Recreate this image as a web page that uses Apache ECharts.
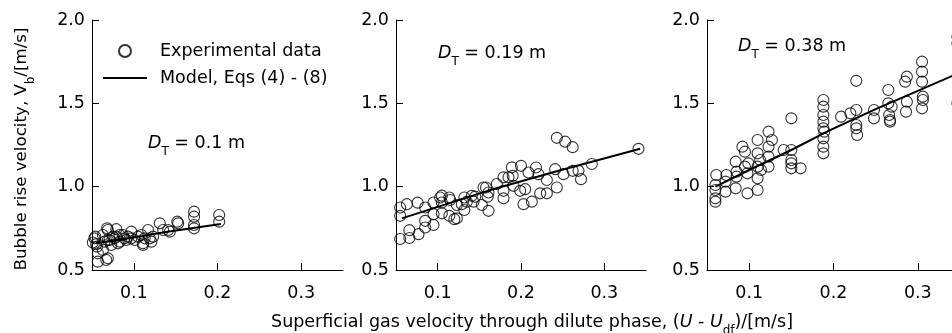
<!DOCTYPE html>
<html><head><meta charset="utf-8">
<script src="https://cdn.jsdelivr.net/npm/echarts@6/dist/echarts.min.js"></script>
<style>html,body{margin:0;padding:0;background:#fff}#c{width:952px;height:333px}</style>
</head><body><div id="c"></div>
<script>
// ---- data ----
const xTicks = [0.1, 0.2, 0.3];
const yTicks = [0.5, 1.0, 1.5, 2.0];
const panelLabels = ['0.1 m', '0.19 m', '0.38 m'];
const exp1 = [[0.051,0.665],[0.053,0.69],[0.054,0.70],[0.055,0.655],[0.056,0.64],[0.057,0.60],[0.057,0.55],[0.063,0.62],[0.063,0.71],[0.065,0.67],[0.067,0.56],[0.068,0.75],[0.069,0.74],[0.069,0.68],[0.069,0.57],[0.071,0.68],[0.073,0.65],[0.075,0.70],[0.077,0.69],[0.079,0.745],[0.079,0.70],[0.081,0.66],[0.083,0.71],[0.083,0.67],[0.087,0.71],[0.089,0.69],[0.091,0.68],[0.093,0.70],[0.097,0.73],[0.097,0.69],[0.101,0.68],[0.105,0.70],[0.109,0.71],[0.111,0.66],[0.111,0.65],[0.113,0.69],[0.117,0.74],[0.119,0.69],[0.121,0.67],[0.123,0.70],[0.131,0.78],[0.135,0.74],[0.141,0.74],[0.143,0.73],[0.152,0.79],[0.153,0.78],[0.172,0.85],[0.172,0.82],[0.172,0.77],[0.172,0.75],[0.202,0.83],[0.202,0.79]];
const model1 = [[0.055,0.66],[0.105,0.70],[0.14,0.73],[0.204,0.776]];
const exp2 = [[0.055,0.875],[0.055,0.825],[0.055,0.686],[0.063,0.895],[0.066,0.739],[0.066,0.692],[0.076,0.904],[0.077,0.715],[0.085,0.875],[0.085,0.795],[0.085,0.755],[0.095,0.905],[0.095,0.835],[0.095,0.77],[0.103,0.935],[0.105,0.946],[0.105,0.905],[0.105,0.84],[0.114,0.935],[0.115,0.92],[0.114,0.825],[0.12,0.805],[0.123,0.89],[0.123,0.81],[0.129,0.895],[0.132,0.935],[0.132,0.86],[0.135,0.91],[0.141,0.945],[0.143,0.91],[0.145,0.94],[0.153,0.89],[0.155,0.995],[0.158,0.995],[0.16,0.94],[0.161,0.965],[0.161,0.855],[0.171,1.016],[0.179,1.056],[0.179,0.975],[0.179,0.93],[0.185,1.056],[0.189,1.116],[0.19,1.065],[0.191,1.005],[0.199,0.975],[0.2,1.125],[0.203,0.895],[0.205,0.985],[0.209,1.085],[0.213,0.91],[0.218,1.115],[0.221,1.075],[0.223,0.96],[0.231,1.04],[0.231,0.96],[0.241,1.105],[0.243,1.293],[0.243,0.995],[0.253,1.27],[0.251,1.075],[0.262,1.237],[0.262,1.095],[0.269,1.095],[0.272,1.045],[0.285,1.136],[0.341,1.227]];
const model2 = [[0.057,0.81],[0.16,0.975],[0.245,1.096],[0.343,1.228]];
const exp3 = [[0.06,0.91],[0.06,0.93],[0.06,0.98],[0.06,1.01],[0.061,1.07],[0.072,1.03],[0.073,1.07],[0.072,0.97],[0.084,0.99],[0.084,1.15],[0.085,1.06],[0.085,1.09],[0.092,1.24],[0.095,1.21],[0.095,1.12],[0.098,0.96],[0.098,1.08],[0.099,1.14],[0.11,1.28],[0.11,1.2],[0.11,1.12],[0.11,1.05],[0.11,0.98],[0.113,1.16],[0.114,1.1],[0.123,1.33],[0.123,1.24],[0.123,1.18],[0.123,1.12],[0.127,1.28],[0.141,1.22],[0.15,1.41],[0.15,1.22],[0.15,1.16],[0.15,1.14],[0.15,1.11],[0.161,1.11],[0.188,1.52],[0.188,1.48],[0.188,1.43],[0.188,1.39],[0.188,1.35],[0.189,1.33],[0.188,1.29],[0.188,1.24],[0.188,1.2],[0.209,1.42],[0.22,1.44],[0.227,1.635],[0.227,1.46],[0.227,1.37],[0.227,1.35],[0.228,1.31],[0.248,1.46],[0.248,1.41],[0.265,1.58],[0.265,1.5],[0.266,1.43],[0.267,1.4],[0.267,1.39],[0.269,1.48],[0.285,1.63],[0.287,1.66],[0.287,1.51],[0.286,1.45],[0.305,1.75],[0.305,1.69],[0.305,1.63],[0.306,1.54],[0.306,1.52],[0.305,1.47],[0.347,1.9],[0.347,1.86],[0.347,1.5]];
const model3 = [[0.06,1.0],[0.1,1.1],[0.15,1.22],[0.194,1.335],[0.25,1.465],[0.3,1.575],[0.35,1.685]];
const expSets = [exp1, exp2, exp3];
const modelSets = [model1, model2, model3];
const seriesNames = ['Experimental data', 'Model, Eqs (4) - (8)'];

// ---- chart ----
const FONT = 'DejaVu Sans';
const FS = 17.5;
const rich = {
  n: {fontFamily: FONT, fontSize: FS, color: '#000', lineHeight: 30},
  i: {fontFamily: FONT, fontSize: FS, color: '#000', fontStyle: 'italic', lineHeight: 30},
  s: {fontFamily: FONT, fontSize: 12, color: '#000', lineHeight: 12, verticalAlign: 'bottom'},
  ny: {fontFamily: FONT, fontSize: 16.7, color: '#000', lineHeight: 30},
  sy: {fontFamily: FONT, fontSize: 11.5, color: '#000', lineHeight: 12, verticalAlign: 'bottom'}
};
const chart = echarts.init(document.getElementById('c'), null, {renderer: 'canvas'});
const gridPos = [{left: 92, width: 251}, {left: 396, width: 250}, {left: 707, width: 253}];
const grids = gridPos.map(g => ({left: g.left, width: g.width, top: 20, height: 250,
  containLabel: false, outerBoundsMode: 'none'}));
const xAxes = gridPos.map((g, i) => ({
  type: 'value', gridIndex: i, min: 0.05, max: 0.35,
  axisLine: {show: true, lineStyle: {color: '#000', width: 1}},
  axisTick: {show: true, inside: true, length: 7, customValues: xTicks, lineStyle: {color: '#000', width: 1}},
  axisLabel: {show: true, customValues: xTicks, color: '#000', fontFamily: FONT, fontSize: FS, margin: 14,
    formatter: v => v.toFixed(1)},
  splitLine: {show: false}
}));
xAxes[1].name = '{n|Superficial gas velocity through dilute phase, (}{i|U}{n| - }{i|U}{s|df}{n|)/[m/s]}';
xAxes[1].nameLocation = 'middle';
xAxes[1].nameGap = 37;
xAxes[1].nameTextStyle = {rich: rich, padding: [0, 0, 0, 22]};
const yAxes = gridPos.map((g, i) => ({
  type: 'value', gridIndex: i, min: 0.5, max: 2.0, interval: 0.5,
  axisLine: {show: true, lineStyle: {color: '#000', width: 1}},
  axisTick: {show: true, inside: true, length: 7, lineStyle: {color: '#000', width: 1}},
  axisLabel: {show: true, color: '#000', fontFamily: FONT, fontSize: FS, margin: 7,
    formatter: v => v.toFixed(1)},
  splitLine: {show: false}
}));
yAxes[0].name = '{ny|Bubble rise velocity, V}{sy|b}{ny|/[m/s]}';
yAxes[0].nameLocation = 'middle';
yAxes[0].nameRotate = 90;
yAxes[0].nameGap = 55;
yAxes[0].nameTextStyle = {rich: rich, padding: [0, 8, 0, 0]};

const series = [];
expSets.forEach((d, i) => series.push({
  name: seriesNames[0], type: 'scatter', xAxisIndex: i, yAxisIndex: i, data: d,
  symbol: 'circle', symbolSize: 11,
  itemStyle: {color: 'rgba(0,0,0,0)', borderColor: '#000', borderWidth: 1.1},
  emphasis: {disabled: true}
}));
modelSets.forEach((d, i) => series.push({
  name: seriesNames[1], type: 'line', xAxisIndex: i, yAxisIndex: i, data: d,
  symbol: 'none', showSymbol: false, lineStyle: {color: '#000', width: 2}, itemStyle: {color: '#000'},
  z: 3, clip: true
}));

const labelPos = [{left: 148, top: 134}, {left: 438, top: 44}, {left: 738, top: 37}];
const graphics = labelPos.map((p, i) => ({
  type: 'text', left: p.left, top: p.top,
  style: {text: '{i|D}{s|T}{n| = ' + panelLabels[i] + '}', rich: rich}
}));

chart.setOption({
  animation: false,
  backgroundColor: '#fff',
  grid: grids, xAxis: xAxes, yAxis: yAxes, series: series,
  legend: {
    data: [
      {name: seriesNames[0]},
      {name: seriesNames[1], itemStyle: {opacity: 0, color: 'rgba(0,0,0,0)', borderWidth: 0}}
    ],
    orient: 'vertical', left: 97, top: 36,
    itemWidth: 44, itemHeight: 12, itemGap: 7,
    textStyle: {fontFamily: FONT, fontSize: FS, color: '#000', lineHeight: 20, padding: [0, 0, 0, 8]}
  },
  graphic: graphics
});
</script></body></html>
